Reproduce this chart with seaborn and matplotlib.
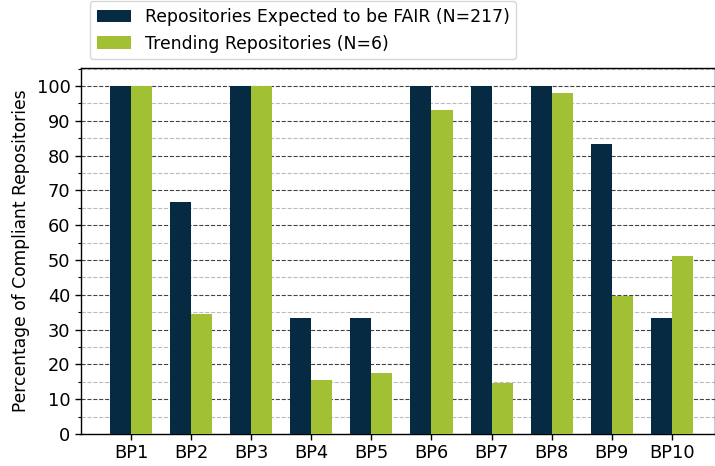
import matplotlib
matplotlib.use("Agg")
import matplotlib.pyplot as plt
from matplotlib.ticker import MultipleLocator
import seaborn as sns
import pandas as pd

categories = ["BP1", "BP2", "BP3", "BP4", "BP5", "BP6", "BP7", "BP8", "BP9", "BP10"]
expected_fair = [100, 66.7, 100, 33.3, 33.3, 100, 100, 100, 83.3, 33.3]
trending = [100, 34.5, 100, 15.5, 17.5, 93.1, 14.6, 98.0, 39.7, 51.1]
series_names = ["Repositories Expected to be FAIR (N=217)", "Trending Repositories (N=6)"]
colors = ["#062a42", "#a2c034"]

df = pd.DataFrame({
    "BP": categories * 2,
    "value": expected_fair + trending,
    "series": [series_names[0]] * len(categories) + [series_names[1]] * len(categories),
})

plt.rcdefaults()
plt.rcParams["font.family"] = "sans-serif"
plt.rcParams["font.sans-serif"] = ["DejaVu Sans"]
plt.rcParams["patch.edgecolor"] = "none"

fig = plt.figure(figsize=(7.15, 4.66), dpi=100)
ax = fig.add_axes([81 / 715, 32 / 466, 1 - 81 / 715, 366 / 466])

sns.barplot(data=df, x="BP", y="value", hue="series", palette=colors,
            width=0.7, saturation=1, ax=ax, zorder=3, linewidth=0, edgecolor="none")

ax.set_xlim(-0.835, 9.72)
ax.set_ylim(0, 105.2)
ax.yaxis.set_major_locator(MultipleLocator(10))
ax.yaxis.set_minor_locator(MultipleLocator(5))
ax.grid(False)
ax.grid(which="major", axis="y", color="#222222", linestyle="--", linewidth=0.8, alpha=0.85, zorder=0)
ax.grid(which="minor", axis="y", color="#bbbbbb", linestyle="--", linewidth=0.8, zorder=0)
ax.set_axisbelow(True)

ax.tick_params(axis="both", which="major", labelsize=12.8, length=4, width=1, direction="out",
               left=True, bottom=True, color="black")
ax.tick_params(axis="y", which="minor", length=2.5, width=0.8, left=True, color="black")
ax.set_xlabel("")
ax.set_ylabel("Percentage of Compliant Repositories", fontsize=12.3, labelpad=5)

for s in ax.spines.values():
    s.set_color("black")
    s.set_linewidth(1.0)

leg = ax.legend(loc="lower left", bbox_to_anchor=(0, 1.0), fontsize=12.4, frameon=True,
                borderaxespad=0.5, title=None)
leg.get_frame().set_edgecolor("#cccccc")

fig.savefig("out.png", dpi=100)
